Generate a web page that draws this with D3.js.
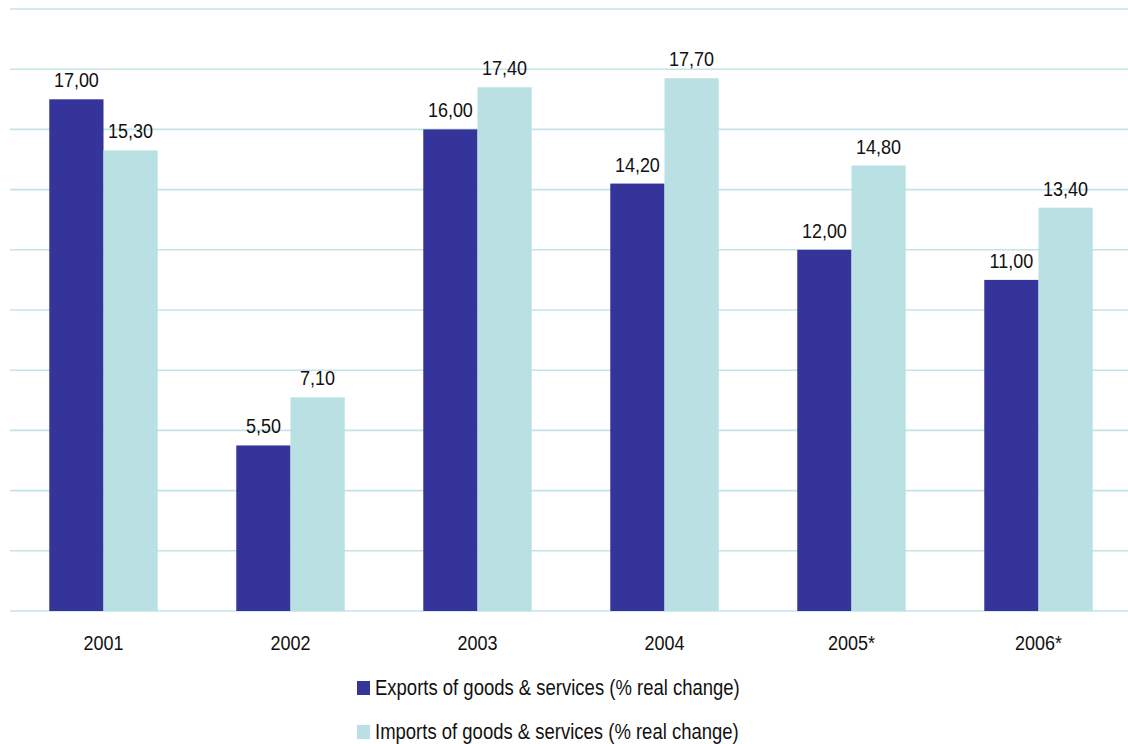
<!DOCTYPE html>
<html>
<head>
<meta charset="utf-8">
<script src="https://cdn.jsdelivr.net/npm/d3@7"></script>
<style>
  html, body { margin: 0; padding: 0; background: #fff; }
  svg { display: block; }
  text { font-family: "Liberation Sans", Arial, sans-serif; fill: #111; }
</style>
</head>
<body>
<svg id="chart" width="1128" height="744"></svg>
<script>
const categories = ["2001", "2002", "2003", "2004", "2005*", "2006*"];
const seriesNames = ["Exports of goods & services (% real change)", "Imports of goods & services (% real change)"];
const exportsValues = [17.0, 5.5, 16.0, 14.2, 12.0, 11.0];
const importsValues = [15.3, 7.1, 17.4, 17.7, 14.8, 13.4];
const yTicks = [0, 2, 4, 6, 8, 10, 12, 14, 16, 18, 20];
const colors = ["#35349a", "#b9e0e3"];

const svg = d3.select("#chart");
const fmt = v => d3.format(".2f")(v).replace(".", ",");
const sy = 1.15;

const x0 = d3.scaleBand().domain(categories).range([10, 1132]).paddingInner(0.42).paddingOuter(0.21);
const x1 = d3.scaleBand().domain([0, 1]).range([0, x0.bandwidth()]).padding(0);
const y = d3.scaleLinear().domain([0, 20]).range([611, 9]);

// gridlines
svg.append("g").selectAll("line").data(yTicks).join("line")
  .attr("x1", 10).attr("x2", 1128)
  .attr("y1", d => y(d)).attr("y2", d => y(d))
  .attr("stroke", "#c4e4e8").attr("stroke-width", 1.6);

const data = categories.map((c, i) => ({ cat: c, vals: [exportsValues[i], importsValues[i]] }));

const groups = svg.append("g").selectAll("g").data(data).join("g")
  .attr("transform", d => `translate(${x0(d.cat)},0)`);

groups.selectAll("rect").data(d => d.vals.map((v, k) => ({ v, k }))).join("rect")
  .attr("x", d => x1(d.k))
  .attr("width", x1.bandwidth())
  .attr("y", d => y(d.v))
  .attr("height", d => y(0) - y(d.v))
  .attr("fill", d => colors[d.k]);

groups.selectAll("text").data(d => d.vals.map((v, k) => ({ v, k }))).join("text")
  .attr("text-anchor", "middle")
  .attr("font-size", 18)
  .attr("transform", d => `translate(${x1(d.k) + x1.bandwidth() / 2},${y(d.v) - 12}) scale(1,${sy})`)
  .text(d => fmt(d.v));

// x axis labels
svg.append("g").selectAll("text").data(categories).join("text")
  .attr("text-anchor", "middle")
  .attr("font-size", 18)
  .attr("transform", d => `translate(${x0(d) + x0.bandwidth() / 2},650) scale(1,${sy})`)
  .text(d => d);

// legend
const legend = svg.append("g").selectAll("g").data(seriesNames).join("g")
  .attr("transform", (d, i) => `translate(357,${681 + i * 44})`);
legend.append("rect").attr("width", 13).attr("height", 14).attr("fill", (d, i) => colors[i]);
legend.append("text")
  .attr("font-size", 18.5)
  .attr("transform", `translate(18,14) scale(1,${sy})`)
  .text(d => d);
</script>
</body>
</html>
